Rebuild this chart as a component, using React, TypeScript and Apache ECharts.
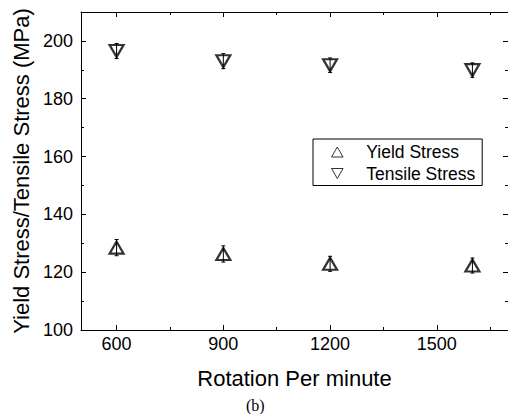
import React, { useEffect, useRef } from "react";
import * as echarts from "echarts";

const rpm = [600, 900, 1200, 1600];
const yieldStress = [128.5, 126.3, 122.9, 122.3];
const tensileStress = [196.5, 193.0, 191.6, 189.9];
const yieldErr = [2.8, 2.8, 2.6, 2.6];
const tensileErr = [2.6, 2.6, 2.5, 2.5];

const xMajor = [600, 900, 1200, 1500];
const xMinor = [750, 1050, 1350, 1650];
const yMajor = [100, 120, 140, 160, 180, 200];
const yMinor = [110, 130, 150, 170, 190];

const FONT = "'Liberation Sans', Arial, sans-serif";
const UP = "path://M5,0 L10,8.66 L0,8.66 Z";
const DOWN = "path://M0,0 L10,0 L5,8.66 Z";

export default function App() {
  const ref = useRef<HTMLDivElement>(null);
  useEffect(() => {
    if (!ref.current) return;
    const chart = echarts.init(ref.current, undefined, { renderer: "svg" });

    const xBase = (pos: string, ticks: number[], len: number, line: boolean, labels: boolean) => ({
      type: "value",
      position: pos,
      min: 500,
      max: 1700,
      gridIndex: 0,
      axisLine: { show: line, onZero: false, lineStyle: { color: "#000", width: 1 } },
      axisTick: { show: true, inside: true, length: len, customValues: ticks, lineStyle: { color: "#000", width: 1 } },
      axisLabel: labels
        ? {
            show: true,
            customValues: ticks,
            fontSize: 18,
            color: "#000",
            fontFamily: FONT,
            margin: 5,
            formatter: (v: number) => String(v),
          }
        : { show: false },
      splitLine: { show: false },
    });
    const yBase = (pos: string, ticks: number[], len: number, line: boolean, labels: boolean) => ({
      type: "value",
      position: pos,
      min: 100,
      max: 210,
      gridIndex: 0,
      axisLine: { show: line, onZero: false, lineStyle: { color: "#000", width: 1 } },
      axisTick: { show: true, inside: true, length: len, customValues: ticks, lineStyle: { color: "#000", width: 1 } },
      axisLabel: labels
        ? {
            show: true,
            customValues: ticks,
            fontSize: 18,
            color: "#000",
            fontFamily: FONT,
            margin: 8,
            formatter: (v: number) => String(v),
          }
        : { show: false },
      splitLine: { show: false },
    });

    const errSeries = (vals: number[], errs: number[]) => ({
      type: "custom",
      xAxisIndex: 0,
      yAxisIndex: 0,
      z: 1,
      data: rpm.map((x, i) => [x, vals[i] - errs[i], vals[i] + errs[i]]),
      renderItem: (params: any, api: any) => {
        const lo = api.coord([api.value(0), api.value(1)]);
        const hi = api.coord([api.value(0), api.value(2)]);
        const w = 2;
        const st = { stroke: "#000", lineWidth: 1 };
        return {
          type: "group",
          children: [
            { type: "line", shape: { x1: lo[0], y1: lo[1], x2: hi[0], y2: hi[1] }, style: st },
            { type: "line", shape: { x1: lo[0] - w, y1: lo[1], x2: lo[0] + w, y2: lo[1] }, style: st },
            { type: "line", shape: { x1: hi[0] - w, y1: hi[1], x2: hi[0] + w, y2: hi[1] }, style: st },
          ],
        };
      },
    });

    const xa0: any = xBase("bottom", xMajor, 5, true, true);
    xa0.name = "Rotation Per minute";
    xa0.nameLocation = "middle";
    xa0.nameGap = 37;
    xa0.nameTextStyle = { fontSize: 22, color: "#000", fontFamily: FONT };
    const ya0: any = yBase("left", yMajor, 5, true, true);
    ya0.name = "Yield Stress/Tensile Stress (MPa)";
    ya0.nameLocation = "middle";
    ya0.nameGap = 46;
    ya0.nameTextStyle = { fontSize: 22, color: "#000", fontFamily: FONT };

    chart.setOption({
      animation: false,
      backgroundColor: "#fff",
      grid: { left: 81, top: 12, right: 0, bottom: 84, containLabel: false },
      xAxis: [
        xa0,
        xBase("top", xMajor, 5, true, false),
        xBase("bottom", xMinor, 3, false, false),
        xBase("top", xMinor, 3, false, false),
      ],
      yAxis: [
        ya0,
        yBase("right", yMajor, 5, false, false),
        yBase("left", yMinor, 3, false, false),
        yBase("right", yMinor, 3, false, false),
      ],
      legend: {
        orient: "vertical",
        left: 313,
        top: 139,
        padding: [4, 7, 3, 18],
        itemGap: 3.5,
        itemWidth: 12,
        itemHeight: 10,
        borderColor: "#000",
        borderWidth: 1,
        symbolRotate: 0,
        itemStyle: { color: "rgba(0,0,0,0)", borderColor: "#000", borderWidth: 1 },
        textStyle: { fontSize: 17.5, color: "#000", fontFamily: FONT, padding: [0, 0, 0, 18] },
        data: [
          { name: "Yield Stress", icon: UP },
          { name: "Tensile Stress", icon: DOWN },
        ],
      },
      graphic: [
        {
          type: "text",
          left: 246,
          top: 397,
          style: { text: "(b)", fontSize: 16, fill: "#000", fontFamily: "'Liberation Serif', 'Times New Roman', serif" },
        },
      ],
      series: [
        errSeries(yieldStress, yieldErr),
        errSeries(tensileStress, tensileErr),
        {
          name: "Yield Stress",
          type: "scatter",
          xAxisIndex: 0,
          yAxisIndex: 0,
          z: 3,
          symbol: UP,
          symbolSize: [14, 12],
          itemStyle: { color: "rgba(0,0,0,0)", borderColor: "#000", borderWidth: 2.2 },
          data: rpm.map((x, i) => [x, yieldStress[i]]),
        },
        {
          name: "Tensile Stress",
          type: "scatter",
          xAxisIndex: 0,
          yAxisIndex: 0,
          z: 3,
          symbol: DOWN,
          symbolSize: [14, 12],
          itemStyle: { color: "rgba(0,0,0,0)", borderColor: "#000", borderWidth: 2.2 },
          data: rpm.map((x, i) => [x, tensileStress[i]]),
        },
      ],
    });
    return () => chart.dispose();
  }, []);
  return (
    <div
      ref={ref}
      style={{ position: "fixed", left: 0, top: 0, width: 508, height: 414, background: "#fff" }}
    />
  );
}
